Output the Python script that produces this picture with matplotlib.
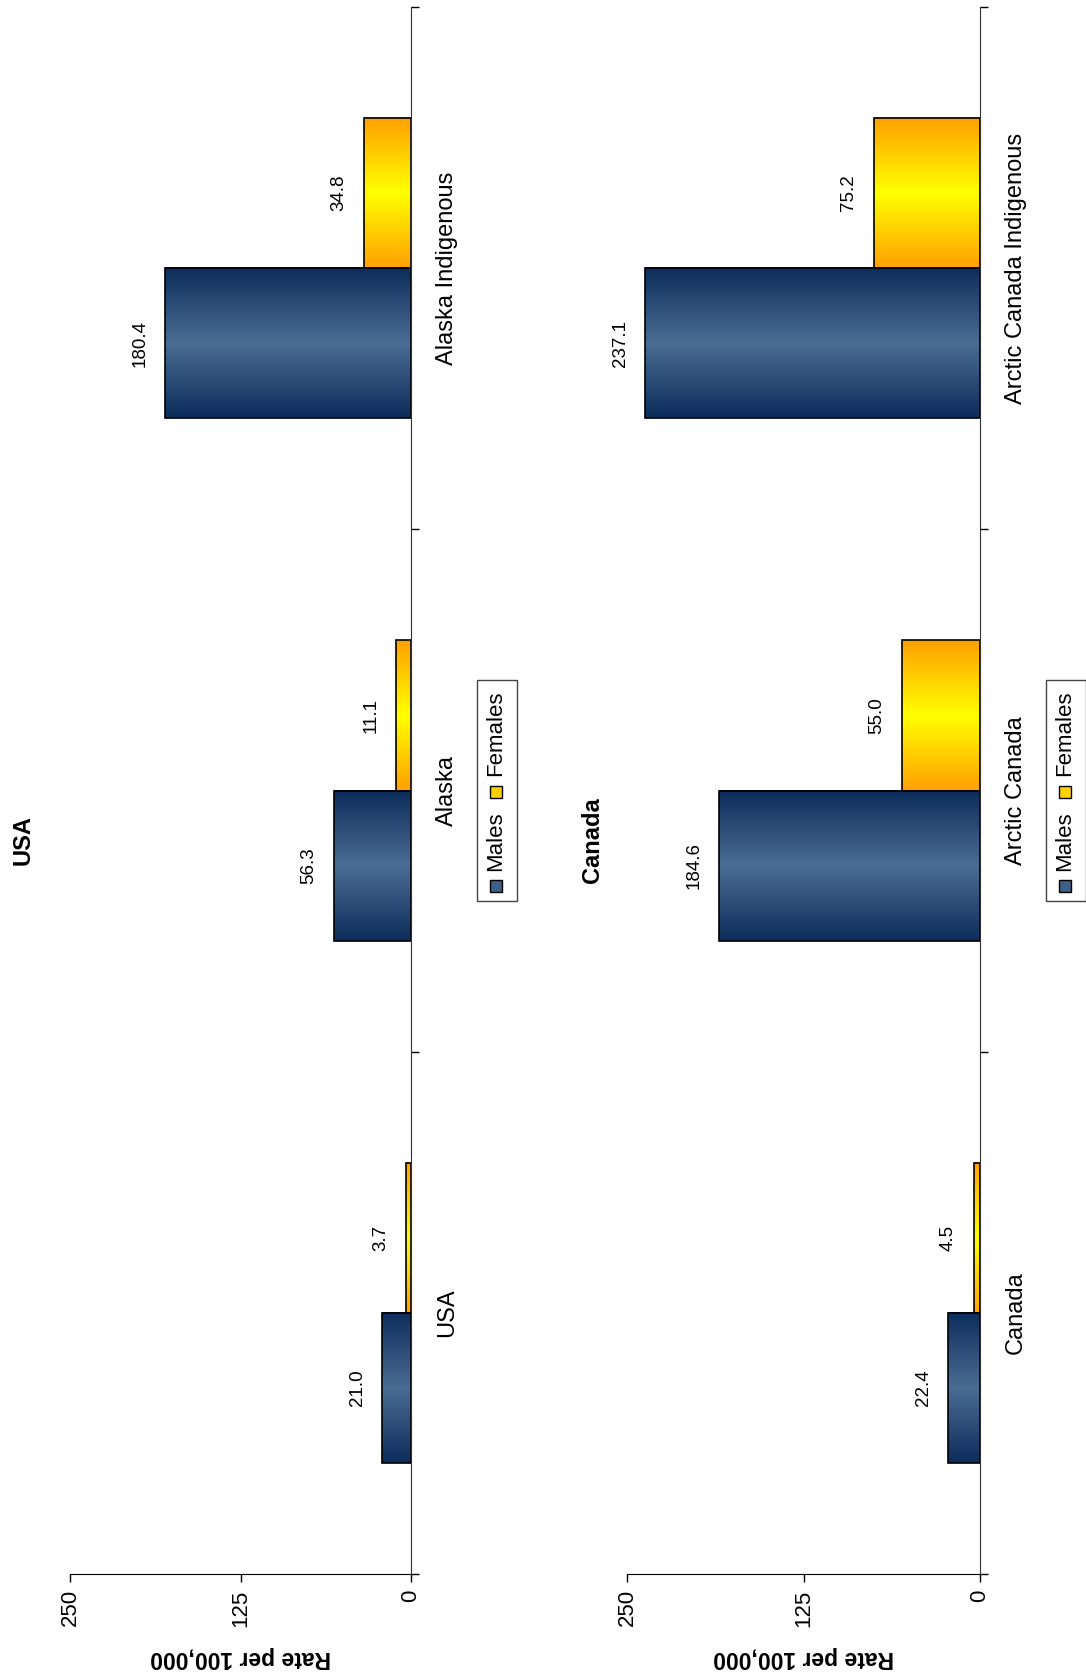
import numpy as np
import matplotlib
matplotlib.use('Agg')
import matplotlib.pyplot as plt
from matplotlib.colors import LinearSegmentedColormap
from matplotlib.patches import Rectangle

plt.rcParams['font.family'] = ['Liberation Sans', 'DejaVu Sans']

# data
usa_cats = ['USA', 'Alaska', 'Alaska Indigenous']
usa_males = [21.0, 56.3, 180.4]
usa_females = [3.7, 11.1, 34.8]
can_cats = ['Canada', 'Arctic Canada', 'Arctic Canada Indigenous']
can_males = [22.4, 184.6, 237.1]
can_females = [4.5, 55.0, 75.2]
ticks = [0, 125, 250]
series = ['Males', 'Females']

W, H = 1086, 1679
male_cmap = LinearSegmentedColormap.from_list('m', ['#0c2d5b', '#4a6d93', '#0c2d5b'])
female_cmap = LinearSegmentedColormap.from_list('f', ['#ffa000', '#ffff00', '#ffa000'])
grad = np.linspace(0, 1, 256).reshape(-1, 1)

fig = plt.figure(figsize=(W / 100, H / 100), dpi=100)


def fx(x):
    return x / W


def fy(y):
    return 1 - y / H


def panel(left_px, right_px, cats, males, females, title, title_x):
    ax = fig.add_axes([fx(left_px), fy(1574), (right_px - left_px) / W, (1574 - 7) / H])
    h = 0.2875
    pos = np.arange(len(cats)) + 0.5
    for vals, off, cmap in [(males, -h / 2, male_cmap), (females, h / 2, female_cmap)]:
        yc = pos + off
        for v, y in zip(vals, yc):
            ax.imshow(grad, cmap=cmap, extent=[0, v, y - h / 2, y + h / 2],
                      aspect='auto', interpolation='bilinear', zorder=2)
            ax.annotate(f'{v:.1f}', xy=(v, y), xytext=(-12, 0), textcoords='offset points',
                        rotation=90, ha='right', va='center', fontsize=13.5)
        ax.barh(yc, vals, height=h, facecolor='none', edgecolor='black', lw=1.2, zorder=3)
    for c, y in zip(cats, pos):
        ax.annotate(c, xy=(0, y), xytext=(18, 0), textcoords='offset points',
                    rotation=90, ha='left', va='center', fontsize=17)
    ax.set_xlim(250, 0)
    ax.set_ylim(0, len(cats))
    ax.set_xticks(ticks)
    ax.tick_params(axis='x', direction='out', length=6, width=1, labelsize=16,
                   labelrotation=90, pad=5)
    ax.yaxis.tick_right()
    ax.set_yticks(np.arange(len(cats) + 1))
    ax.tick_params(axis='y', direction='out', length=6, width=1, labelright=False)
    ax.spines['left'].set_visible(False)
    ax.spines['top'].set_visible(False)
    ax.spines['right'].set_color('#333333')
    ax.patch.set_alpha(0)

    fig.text(fx(title_x), fy(840), title, rotation=90, ha='center', va='center',
             fontsize=17, fontweight='bold')
    fig.text(fx((left_px + right_px) / 2), fy(1658), 'Rate per 100,000', rotation=180,
             ha='center', va='center', fontsize=16.5, fontweight='bold')

    # legend drawn by hand, rotated
    lx = right_px + 66
    fig.add_artist(Rectangle((fx(lx), fy(901)), 40 / W, 221 / H, transform=fig.transFigure,
                             facecolor='white', edgecolor='#444444', lw=1))
    for name, sq_y, txt_y, col in [(series[0], 886, 841, '#3d5f88'),
                                   (series[1], 792, 733, '#ffd000')]:
        fig.add_artist(Rectangle((fx(lx + 13), fy(sq_y + 6)), 12 / W, 12 / H,
                                 transform=fig.transFigure, facecolor=col,
                                 edgecolor='black', lw=1))
        fig.text(fx(lx + 19), fy(txt_y), name, rotation=90, ha='center', va='center',
                 fontsize=16)
    return ax


panel(70, 411, usa_cats, usa_males, usa_females, 'USA', 23)
panel(627, 980, can_cats, can_males, can_females, 'Canada', 592)

fig.savefig('out.png', dpi=100)
